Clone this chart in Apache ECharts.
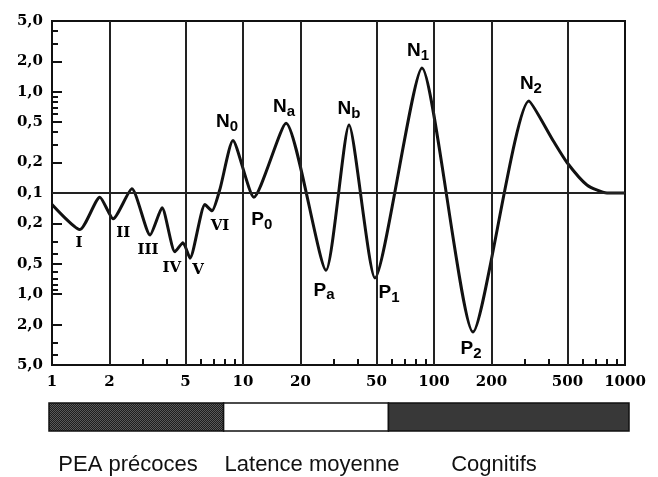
<!DOCTYPE html>
<html>
<head>
<meta charset="utf-8">
<script src="https://cdn.jsdelivr.net/npm/echarts@6/dist/echarts.min.js"></script>
<style>
  html, body { margin: 0; padding: 0; background: #fff; }
  #chart { width: 658px; height: 477px; }
</style>
</head>
<body>
<div id="chart"></div>
<script>
// latences (ms) et amplitudes (µV) ; signe + = au-dessus de la ligne 0,1, signe - = au-dessous
const latencies = [1, 1.4, 1.78, 2.09, 2.62, 3.26, 3.77, 4.4, 4.85, 5.28, 6.32, 6.88, 7.58, 8.86, 11.4,
  16.8, 27.2, 35.9, 49.1, 86.5, 160, 314, 420, 497, 632, 805, 1000];
const amplitudes = [-0.13, -0.23, -0.11, -0.18, 0.11, -0.26, -0.14, -0.38, -0.31, -0.44, -0.13, -0.15, 0.11, 0.33, -0.11,
  0.49, -0.58, 0.47, -0.69, 1.72, -2.36, 0.81, 0.33, 0.2, 0.12, 0.1, 0.1];
const waveNames = ['', 'I', '', 'II', '', 'III', '', 'IV', '', 'V', '', 'VI', '', 'N0', 'P0',
  'Na', 'Pa', 'Nb', 'P1', 'N1', 'P2', 'N2', '', '', '', '', ''];

// axes
const xTickLabels = [1, 2, 5, 10, 20, 50, 100, 200, 500, 1000];
const xMinorTicks = [3, 4, 6, 7, 8, 9, 30, 40, 60, 70, 80, 90, 300, 400, 600, 700, 800, 900];
const xGridLines = [2, 5, 10, 20, 50, 100, 200, 500];
const yTickLabels = [5, 2, 1, 0.5, 0.2, 0.1, -0.2, -0.5, -1, -2, -5];
const yMinorTicks = [4, 3, 0.9, 0.8, 0.7, 0.6, 0.4, 0.3, -0.3, -0.4, -0.6, -0.7, -0.8, -0.9, -3, -4];

// bandeau du bas
const bandNames = ['PEA précoces', 'Latence moyenne', 'Cognitifs'];
const bandStart = [1, 8, 57];
const bandEnd = [8, 57, 1000];

const lx = t => Math.log10(t);
// echelle log symetrique autour de 0,1
const ly = a => Math.abs(a) <= 0.1 ? 0 : Math.sign(a) * Math.log10(Math.abs(a) / 0.1);
const yLim = Math.log10(50);
const fmtY = v => (0.1 * Math.pow(10, Math.abs(v))).toFixed(1).replace('.', ',');

const numFont = { fontFamily: 'DejaVu Serif', fontWeight: 'bold', fontSize: 15, color: '#000' };

// decalage des etiquettes par rapport au point
const labelOffsets = {
  I: [-1, 13], II: [10, 14], III: [-2, 15], IV: [-3, 16], V: [8, 12], VI: [8, 15],
  N0: [-6, -19], P0: [8, 23], Na: [-2, -16], Pa: [-2, 20], Nb: [0, -16],
  P1: [14, 15], N1: [-4, -17], P2: [-2, 17], N2: [2, -17]
};

function labelText(n) {
  if (n[0] === 'N' || n[0] === 'P') return '{b|' + n[0] + '}{s|' + n.slice(1) + '}';
  return '{r|' + n + '}';
}

// motif pointille pour le premier segment
const pat = document.createElement('canvas');
pat.width = 2; pat.height = 2;
const pctx = pat.getContext('2d');
pctx.fillStyle = '#1e1e1e'; pctx.fillRect(0, 0, 2, 2);
pctx.fillStyle = '#5a5a5a'; pctx.fillRect(0, 0, 1, 1); pctx.fillRect(1, 1, 1, 1);
const bandFills = [{ image: pat, repeat: 'repeat' }, '#ffffff', '#383838'];

const curve = latencies.map((t, i) => [lx(t), ly(amplitudes[i])]);
const named = [];
waveNames.forEach((n, i) => {
  if (n) named.push({
    value: curve[i], name: n,
    label: { offset: labelOffsets[n] || [0, 0] }
  });
});

const chart = echarts.init(document.getElementById('chart'), null, { renderer: 'canvas' });
chart.setOption({
  animation: false,
  backgroundColor: '#fff',
  grid: [
    { left: 52, right: 33, top: 21, bottom: 112, show: true, borderColor: '#111', borderWidth: 2, backgroundColor: 'transparent' },
    { left: 49, right: 29, top: 403, height: 28 }
  ],
  xAxis: [
    {
      type: 'value', gridIndex: 0, min: 0, max: 3,
      axisLine: { show: true, onZero: false, lineStyle: { color: '#111', width: 2 } },
      splitLine: { show: false },
      axisTick: { show: true, inside: true, length: 6, customValues: xMinorTicks.map(lx), lineStyle: { color: '#111', width: 2 } },
      axisLabel: Object.assign({ customValues: xTickLabels.map(lx), margin: 10,
        formatter: v => String(Math.round(Math.pow(10, v))) }, numFont)
    },
    { type: 'value', gridIndex: 1, min: 0, max: 3, show: false }
  ],
  yAxis: [
    {
      type: 'value', gridIndex: 0, min: -yLim, max: yLim, position: 'left',
      axisLine: { show: true, onZero: false, lineStyle: { color: '#111', width: 2 } },
      splitLine: { show: false },
      axisTick: { show: true, inside: true, length: 10, customValues: yTickLabels.map(ly), lineStyle: { color: '#111', width: 2 } },
      axisLabel: Object.assign({ customValues: yTickLabels.map(ly), margin: 9, formatter: fmtY }, numFont)
    },
    {
      type: 'value', gridIndex: 0, min: -yLim, max: yLim, position: 'left', offset: 0,
      axisLine: { show: false, onZero: false }, splitLine: { show: false }, axisLabel: { show: false },
      axisTick: { show: true, inside: true, length: 6, customValues: yMinorTicks.map(ly), lineStyle: { color: '#111', width: 2 } }
    },
    { type: 'value', gridIndex: 1, min: 0, max: 1, show: false }
  ],
  series: [
    {
      type: 'line', xAxisIndex: 0, yAxisIndex: 0,
      data: curve, smooth: 0.2, symbol: 'none', z: 4,
      lineStyle: { color: '#111', width: 3 },
      markLine: {
        silent: true, symbol: 'none', label: { show: false }, animation: false,
        lineStyle: { color: '#222', width: 2, type: 'solid' },
        data: xGridLines.map(t => ({ xAxis: lx(t) })).concat([{ yAxis: 0 }])
      }
    },
    {
      type: 'scatter', xAxisIndex: 0, yAxisIndex: 0,
      data: named, symbolSize: 1, itemStyle: { color: 'rgba(255,255,255,0)' }, z: 5,
      label: {
        show: true, position: 'inside', align: 'center', verticalAlign: 'middle',
        color: '#000', textBorderWidth: 0, opacity: 1,
        formatter: p => labelText(p.name),
        rich: {
          b: { fontFamily: 'Liberation Sans', fontWeight: 'bold', fontSize: 19, color: '#000', textBorderWidth: 0 },
          s: { fontFamily: 'Liberation Sans', fontWeight: 'bold', fontSize: 15, color: '#000', textBorderWidth: 0, padding: [10, 0, 0, 0] },
          r: { fontFamily: 'DejaVu Serif', fontWeight: 'bold', fontSize: 15, color: '#000', textBorderWidth: 0 }
        }
      }
    },
    {
      type: 'custom', xAxisIndex: 1, yAxisIndex: 2,
      data: bandNames.map((n, i) => ({ name: n, value: [lx(bandStart[i]), lx(bandEnd[i])] })),
      renderItem: (params, api) => {
        const p0 = api.coord([api.value(0), 1]);
        const p1 = api.coord([api.value(1), 0]);
        return {
          type: 'rect',
          shape: { x: p0[0], y: p0[1], width: p1[0] - p0[0], height: p1[1] - p0[1] },
          style: { fill: bandFills[params.dataIndex], stroke: '#111', lineWidth: 1.5 }
        };
      }
    }
  ],
  graphic: [
    { type: 'text', x: 128, y: 465, style: { text: bandNames[0], font: '22px "Liberation Sans"', fill: '#111', textAlign: 'center', textVerticalAlign: 'middle' } },
    { type: 'text', x: 312, y: 465, style: { text: bandNames[1], font: '22px "Liberation Sans"', fill: '#111', textAlign: 'center', textVerticalAlign: 'middle' } },
    { type: 'text', x: 494, y: 465, style: { text: bandNames[2], font: '22px "Liberation Sans"', fill: '#111', textAlign: 'center', textVerticalAlign: 'middle' } }
  ]
});
</script>
</body>
</html>
